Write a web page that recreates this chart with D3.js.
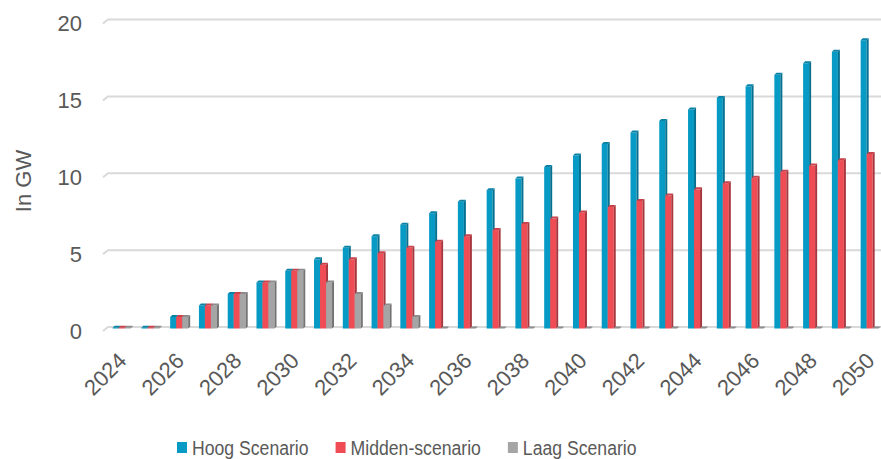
<!DOCTYPE html>
<html>
<head>
<meta charset="utf-8">
<script src="https://cdn.jsdelivr.net/npm/d3@7"></script>
<style>
  body { margin: 0; background: #fff; }
  text { fill: #595959; }
</style>
</head>
<body>
<svg id="chart" width="881" height="459"></svg>
<script>
// data (GW)
const years = [2024, 2025, 2026, 2027, 2028, 2029, 2030, 2031, 2032, 2033, 2034, 2035, 2036, 2037,
               2038, 2039, 2040, 2041, 2042, 2043, 2044, 2045, 2046, 2047, 2048, 2049, 2050];
const hoog = [0.05, 0.05, 0.75, 1.5, 2.25, 3.0, 3.75, 4.5, 5.25, 6.0, 6.75, 7.5, 8.25, 9.0,
              9.75, 10.5, 11.25, 12.0, 12.75, 13.5, 14.25, 15.0, 15.75, 16.5, 17.25, 18.0, 18.75];
const midden = [0.05, 0.05, 0.75, 1.5, 2.25, 3.0, 3.75, 4.15, 4.5, 4.9, 5.25, 5.65, 6.0, 6.4,
                6.8, 7.15, 7.55, 7.9, 8.3, 8.65, 9.05, 9.45, 9.8, 10.2, 10.6, 10.95, 11.35];
const laag = [0.05, 0.05, 0.75, 1.5, 2.25, 3.0, 3.75, 3.0, 2.25, 1.5, 0.75, 0, 0, 0,
              0, 0, 0, 0, 0, 0, 0, 0, 0, 0, 0, 0, 0];
const seriesNames = ["Hoog Scenario", "Midden-scenario", "Laag Scenario"];
const yTicks = [0, 5, 10, 15, 20];
const xTickYears = [2024, 2026, 2028, 2030, 2032, 2034, 2036, 2038, 2040, 2042, 2044, 2046, 2048, 2050];

const colors = {
    front: ["#069ac4", "#ef4c56", "#a5a5a5"],
    side:  ["#05708f", "#a7363d", "#737373"],
    top:   ["#0a82a6", "#c9424b", "#8c8c8c"]
};

const svg = d3.select("#chart");
const depth = {dx: 2, dy: 2};

let yScale = d3.scaleLinear().domain([0, 20]).range([327, 19.5]);

let x0 = d3.scaleBand()
    .domain(years)
    .range([104, 887.3])
    .paddingInner(0.374)
    .paddingOuter(0.3);

let x1 = d3.scaleBand()
    .domain(seriesNames)
    .range([0, x0.bandwidth()]);

// gridlines on the back wall with the little slanted floor edge
let grid = svg.append("g").attr("class", "grid");
yTicks.forEach(t => {
    let gy = yScale(t);
    grid.append("path")
        .attr("d", `M103,${gy + 4}L108,${gy}L881,${gy}`)
        .attr("fill", "none")
        .attr("stroke", "#d9d9d9")
        .attr("stroke-width", 2);
});

// y tick labels
svg.append("g").selectAll("text").data(yTicks).enter().append("text")
    .attr("x", 82)
    .attr("y", d => yScale(d) + 4)
    .attr("dy", "0.35em")
    .attr("text-anchor", "end")
    .style("font-family", "'Liberation Sans', Arial, sans-serif")
    .style("font-size", "22px")
    .text(d => d);

// y axis title
svg.append("text")
    .attr("transform", "translate(31,181) rotate(-90)")
    .attr("text-anchor", "middle")
    .style("font-family", "'Liberation Sans', Arial, sans-serif")
    .style("font-size", "22px")
    .text("In GW");

// bars with a simple 3D look: front face, right side, top face
let allSeries = [hoog, midden, laag];
let barData = [];
years.forEach((yr, i) => {
    seriesNames.forEach((s, k) => {
        barData.push({year: yr, series: s, k: k, value: allSeries[k][i]});
    });
});

let base = yScale(0) + 1.5;
let bars = svg.append("g").selectAll("g.bar").data(barData).enter().append("g").attr("class", "bar");

bars.each(function(d) {
    let g = d3.select(this);
    let bx = x0(d.year) + x1(d.series);
    let bw = x1.bandwidth();
    let ty = yScale(d.value) + 1.5;
    g.append("rect")
        .attr("x", bx).attr("y", ty)
        .attr("width", bw).attr("height", Math.max(0, base - ty))
        .attr("fill", colors.front[d.k]);
    g.append("path")
        .attr("d", `M${bx + bw},${ty}L${bx + bw + depth.dx},${ty - depth.dy}L${bx + bw + depth.dx},${base - depth.dy}L${bx + bw},${base}Z`)
        .attr("fill", colors.side[d.k]);
    g.append("path")
        .attr("d", `M${bx},${ty}L${bx + depth.dx},${ty - depth.dy}L${bx + bw + depth.dx},${ty - depth.dy}L${bx + bw},${ty}Z`)
        .attr("fill", colors.top[d.k]);
});

// x axis labels, rotated
let xAxis = d3.axisBottom(x0).tickValues(xTickYears).tickSize(0);
let xg = svg.append("g").call(xAxis);
xg.select(".domain").remove();
xg.selectAll(".tick").attr("transform", d => `translate(${x0(d) + x0.bandwidth() / 2 - 5},351)`);
xg.selectAll("text")
    .attr("y", 0)
    .attr("x", 0)
    .attr("dy", "0.72em")
    .attr("text-anchor", "end")
    .attr("transform", "rotate(-45)")
    .style("font-family", "'Liberation Sans', Arial, sans-serif")
    .style("font-size", "22px")
    .attr("fill", "#595959");

// legend (condensed look: squeeze the text horizontally)
let legend = svg.append("g").attr("class", "legend");
let squeeze = 0.84;
let lx = 177;
seriesNames.forEach((s, k) => {
    legend.append("rect")
        .attr("x", lx).attr("y", 442)
        .attr("width", 10).attr("height", 11)
        .attr("fill", colors.front[k]);
    let t = legend.append("text")
        .attr("transform", `translate(${lx + 15},455) scale(${squeeze},1)`)
        .style("font-family", "'Liberation Sans', Arial, sans-serif")
        .style("font-size", "21px")
        .text(s);
    lx += 15 + t.node().getComputedTextLength() * squeeze + 27;
});
</script>
</body>
</html>
